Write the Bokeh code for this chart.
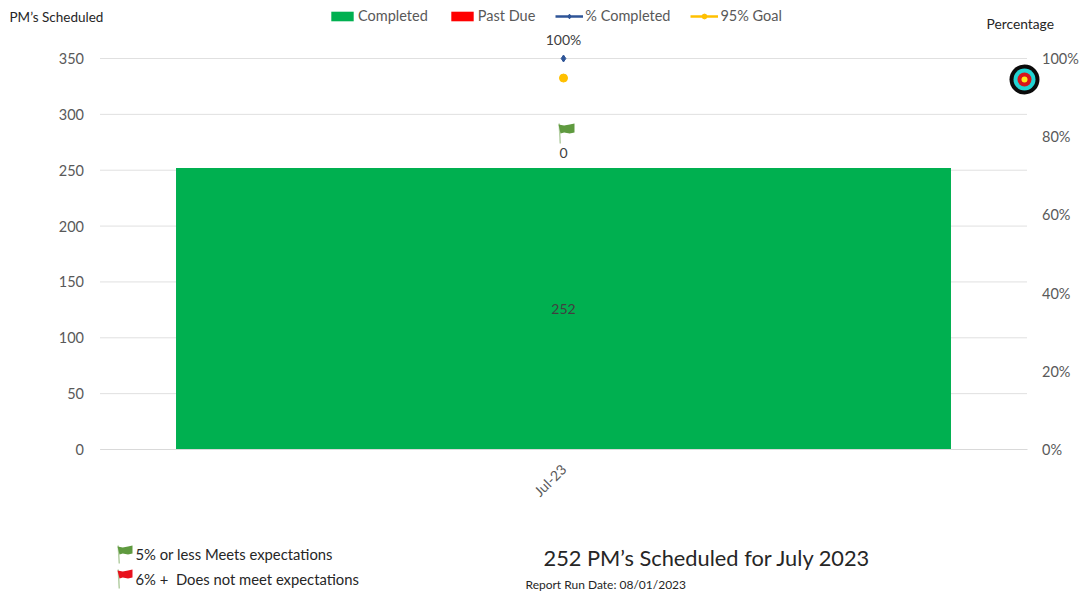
from math import pi
from bokeh.plotting import figure
from bokeh.embed import file_html
from bokeh.resources import INLINE
from bokeh.core.properties import value
from bokeh.models import (Range1d, LinearAxis, Legend, LegendItem, Label, LabelSet,
                          PolyAnnotation, BoxAnnotation, FixedTicker, NumeralTickFormatter, ColumnDataSource)

months = ["Jul-23"]
completed = [252]
past_due = [0]
pct_completed = [1.0]
goal = [0.95]
left_ticks = [0, 50, 100, 150, 200, 250, 300, 350]
right_ticks = [0, 0.2, 0.4, 0.6, 0.8, 1.0]

FONT = "Lato"
GREY = "#595959"
DARK = "#404040"

# The whole canvas is the frame (annotations are clipped to it); the ranges are
# chosen so the plotting area falls at the reference's pixel position.
W, H = 1081, 592
PL, PR, PT, PB = 99.5, 1026.5, 58, 449
x_unit = PR - PL
y_unit = (PB - PT) / 350
YMAX = 350
x_idx = list(range(len(months)))

p = figure(width=W, height=H,
           x_range=Range1d(-0.5 - PL / x_unit, -0.5 + (W - PL) / x_unit),
           y_range=Range1d(-(H - PB) / y_unit, YMAX + PT / y_unit),
           output_backend="svg", toolbar_location=None,
           min_border_left=0, min_border_right=0, min_border_top=0, min_border_bottom=0)
p.outline_line_color = None
p.background_fill_color = "white"
p.extra_y_ranges = {"pct": Range1d(-(H - PB) / y_unit / YMAX, 1 + PT / y_unit / YMAX)}

src = ColumnDataSource(dict(x=x_idx, completed=completed, past_due=past_due,
                            top2=[a + b for a, b in zip(completed, past_due)],
                            mid=[c / 2 for c in completed], pct=pct_completed, goal=goal,
                            l_completed=[str(c) for c in completed],
                            l_past=[str(c) for c in past_due],
                            l_pct=[f"{v:.0%}" for v in pct_completed]))

# horizontal rules of the plotting area
p.segment(x0=[-0.5] * len(left_ticks), x1=[0.5] * len(left_ticks), y0=left_ticks, y1=left_ticks,
          line_color="#e0e0e0", line_width=1)

bar = p.vbar(x="x", top="completed", bottom=0, width=0.836, fill_color="#00b050", line_color=None, source=src)
bar2 = p.vbar(x="x", bottom="completed", top="top2", width=0.836, fill_color="#ff0000", line_color=None, source=src)
l1 = p.line(x="x", y="pct", y_range_name="pct", color="#2f5597", line_width=2.5, source=src)
m1 = p.scatter(x="x", y="pct", y_range_name="pct", marker="diamond", size=7, color="#2f5597", source=src)
l2 = p.line(x="x", y="goal", y_range_name="pct", color="#ffc000", line_width=2.5, source=src)
m2 = p.scatter(x="x", y="goal", y_range_name="pct", marker="circle", size=8, color="#ffc000", source=src)

txt = dict(x="x", source=src, text_font=value(FONT), text_font_size="14px", text_color=DARK,
           text_align="center", text_baseline="middle")
p.add_layout(LabelSet(y="mid", text="l_completed", **txt))
p.add_layout(LabelSet(y="top2", text="l_past", y_offset=15, **txt))
p.add_layout(LabelSet(y="pct", text="l_pct", y_range_name="pct", y_offset=19, **txt))

# axes
p.ygrid.visible = False
p.xgrid.visible = False
ya = p.yaxis[0]
ya.fixed_location = -0.5
ya.ticker = FixedTicker(ticks=left_ticks)
ya.axis_line_color = None
ya.major_tick_line_color = None
ya.minor_tick_line_color = None
ya.major_label_text_font = FONT
ya.major_label_text_font_size = "14.5px"
ya.major_label_text_color = GREY
ya.major_label_standoff = 10

ra = LinearAxis(y_range_name="pct", ticker=FixedTicker(ticks=right_ticks),
                formatter=NumeralTickFormatter(format="0%"), fixed_location=0.5)
ra.axis_line_color = None
ra.major_tick_line_color = None
ra.minor_tick_line_color = None
ra.major_label_text_font = FONT
ra.major_label_text_font_size = "14.5px"
ra.major_label_text_color = GREY
ra.major_label_standoff = 9
p.add_layout(ra, "right")

xa = p.xaxis[0]
xa.fixed_location = 0
xa.bounds = (-0.5, 0.5)
xa.ticker = FixedTicker(ticks=x_idx)
xa.major_label_overrides = dict(zip(x_idx, months))
xa.axis_line_color = "#d9d9d9"
xa.major_tick_line_color = None
xa.minor_tick_line_color = None
xa.major_label_orientation = pi / 4
xa.major_label_text_font = FONT
xa.major_label_text_font_size = "14px"
xa.major_label_text_color = GREY
xa.major_label_standoff = 11

legend = Legend(items=[LegendItem(label="Completed", renderers=[bar]),
                       LegendItem(label="Past Due", renderers=[bar2]),
                       LegendItem(label="% Completed", renderers=[l1, m1]),
                       LegendItem(label="95% Goal", renderers=[l2, m2])],
                orientation="horizontal", location=(328, H - 24),
                border_line_color=None, background_fill_alpha=0,
                glyph_width=28, glyph_height=12, label_standoff=2, spacing=20,
                margin=0, padding=0, label_text_font=FONT, label_text_font_size="14.5px",
                label_text_color=GREY, label_height=16)
p.add_layout(legend, "center")

def label(text, x, y, size, color="#262626"):
    p.add_layout(Label(x=x, y=H - y, x_units="screen", y_units="screen", text=text,
                       text_font=FONT, text_font_size=size, text_color=color,
                       text_baseline="middle", text_align="left"))

label("PM\u2019s Scheduled", 9, 16, "13.5px")
label("Percentage", 986, 23, "13.8px")
label("5% or less Meets expectations", 135, 553, "14.8px")
label("6% +\u00a0 Does not meet expectations", 135, 578, "14.8px")
label("252 PM\u2019s Scheduled for July 2023", 543, 557, "21.8px")
label("Report Run Date: 08/01/2023", 525, 584, "12px")

def poly(xs, ys, color):
    p.add_layout(PolyAnnotation(xs=list(xs), ys=[H - v for v in ys],
                                xs_units="screen", ys_units="screen",
                                fill_color=color, fill_alpha=1, line_color=None))

def flag(x0, y0, w, h, pole, color):
    poly([x0, x0 + 1.5, x0 + 2.5, x0 + 1], [y0, y0, y0 + pole, y0 + pole], "#b5cfa5")
    poly([x0, x0 + w * 0.35, x0 + w * 0.7, x0 + w, x0 + w, x0 + w * 0.7, x0 + w * 0.35, x0 + 2],
         [y0 + 1, y0 + 2, y0 + 1, y0, y0 + h - 1, y0 + h, y0 + h - 1, y0 + h], color)

flag(558, 123, 16, 10, 20, "#5f9a3f")
flag(117, 545, 15, 9, 18, "#5f9a3f")
flag(117, 569, 15, 9, 19, "#e8101c")

def disc(cx, cy, r, color):
    p.add_layout(BoxAnnotation(left=cx - r, right=cx + r, top=H - cy + r, bottom=H - cy - r,
                               left_units="screen", right_units="screen", top_units="screen", bottom_units="screen",
                               fill_color=color, fill_alpha=1, line_color=None, border_radius=r))

disc(1024, 79, 15, "#0b0b0b")
disc(1024, 79, 11, "#22d3d3")
disc(1024, 79, 7, "#d8141c")
disc(1024, 79, 3, "#ffe81a")

open("out.html", "w").write(file_html(p, INLINE))
